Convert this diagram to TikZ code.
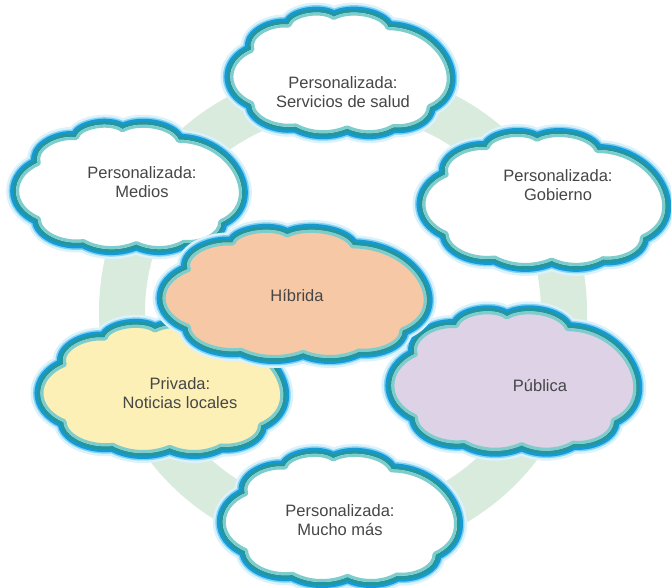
\documentclass[tikz,border=0pt]{standalone}
\usepackage{fontspec}
\setmainfont{Liberation Sans}
\definecolor{ringc}{RGB}{217,235,221}
\definecolor{glowA}{RGB}{218,242,252}
\definecolor{glowB}{RGB}{130,210,242}
\definecolor{blueb}{RGB}{20,155,215}
\definecolor{tealb}{RGB}{35,150,160}
\definecolor{lightb}{RGB}{125,205,205}
\definecolor{txt}{RGB}{70,70,70}
\definecolor{hib}{RGB}{246,200,165}
\definecolor{pri}{RGB}{252,240,182}
\definecolor{pub}{RGB}{222,210,230}
\def\cloudp{(-0.88,-0.35) to[bend left=55] (-0.52,-0.74) to[bend left=65] (-0.08,-0.86) to[bend left=58] (0.45,-0.7) to[bend left=72] (0.85,0.55) to[bend left=50] (0.5,0.86) to[bend left=40] (0.05,0.88) to[bend left=38] (-0.45,0.85) to[bend left=50] (-0.88,0.5) to[bend left=55] (-0.88,-0.35) -- cycle}
\newcommand\cloudat[5]{%
\begin{scope}[shift={(#1,#2)}, xscale=#3, yscale=#4]
\draw[line width=20pt, glowA] \cloudp;
\draw[line width=15pt, glowB] \cloudp;
\draw[line width=12pt, blueb] \cloudp;
\draw[line width=7pt, tealb] \cloudp;
\fill[#5] \cloudp;
\clip \cloudp;
\draw[line width=6pt, lightb] \cloudp;
\end{scope}}
\tikzset{lbl/.style={text=txt, align=center, font=\fontsize{16.5}{18.5}\selectfont}}
\begin{document}
\begin{tikzpicture}[x=1pt,y=-1pt, line join=round]
\useasboundingbox (0,0) rectangle (671,588);
\fill[white] (0,0) rectangle (671,588);
\draw[ringc, line width=46pt] (343,312) circle (221pt);
\cloudat{342}{72}{103}{64}{white}
\cloudat{131}{186}{106}{66}{white}
\cloudat{546}{199}{114}{70}{white}
\cloudat{342}{517}{110}{68}{white}
\cloudat{164}{388}{114}{68}{pri}
\cloudat{516}{380}{115}{74}{pub}
\cloudat{297}{293}{124}{68}{hib}
\node[lbl] (salud) at (343,92) {Personalizada:\\Servicios de salud};
\node[lbl] (medios) at (142,182) {Personalizada:\\Medios};
\node[lbl] (gob) at (558,185) {Personalizada:\\Gobierno};
\node[lbl] (hib) at (297,296) {Híbrida};
\node[lbl] (priv) at (180,393) {Privada:\\Noticias locales};
\node[lbl] (pub) at (540,386) {Pública};
\node[lbl] (mucho) at (340,520) {Personalizada:\\Mucho más};
\end{tikzpicture}
\end{document}
